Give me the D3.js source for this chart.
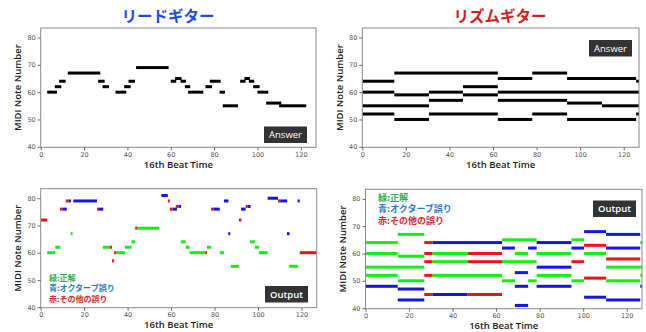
<!DOCTYPE html>
<html>
<head>
<meta charset="utf-8">
<script src="https://cdn.jsdelivr.net/npm/d3@7"></script>
<style>
  body { margin: 0; background: #fff; }
  svg { display: block; }
</style>
</head>
<body>
<svg id="chart"></svg>
<script>
// note lists: [start beat, end beat, midi pitch(, result)]
const leadAnswer = [
  [3, 7.5, 60], [6.5, 9.5, 62], [8.5, 11.5, 64], [12.5, 27.5, 67], [26.5, 29.5, 64],
  [28.5, 31.5, 62], [34.5, 39.5, 60], [38.5, 41.5, 62], [40.5, 43.5, 64], [44, 59, 69],
  [60, 62.5, 64], [62, 65, 65], [64.5, 67, 64], [66.5, 69, 62], [68, 75, 60],
  [76, 79, 62], [78, 83, 64], [82.5, 85, 60], [84, 91, 55], [92, 94.5, 64],
  [94, 96.5, 65], [96, 98.5, 64], [98, 101, 62], [100, 105, 60], [104, 111, 56],
  [110, 122.5, 55]
];

const rhythmAnswer = [
  [0, 14.7, 64], [0, 14.7, 60], [0, 30.6, 55], [0, 14.7, 52],
  [14.7, 62.2, 67], [14.7, 30.6, 59], [14.7, 30.6, 50],
  [30.6, 46.2, 60], [30.6, 46.2, 57], [30.6, 62.2, 52],
  [46.2, 62.2, 62], [46.2, 62.2, 59],
  [62.2, 78, 65], [62.2, 127, 60], [62.2, 94, 57], [62.2, 78, 50],
  [78, 94, 67], [78, 94, 52],
  [94, 125.7, 65], [94, 110, 56], [94, 125.7, 50],
  [110, 127, 55],
  [125.7, 127, 64], [125.7, 127, 52]
];

// g = correct, b = octave error, r = other error
const leadOutput = [
  [0, 3, 72, 'r'], [3, 6.7, 60, 'g'], [6.7, 9, 62, 'g'], [8.9, 10, 76, 'r'], [10, 12, 76, 'b'],
  [11.6, 12.9, 79, 'r'], [12.9, 13.9, 79, 'b'], [13.8, 14.7, 67, 'g'], [15, 25.9, 79, 'b'],
  [25.9, 26.8, 76, 'r'], [26.8, 28.8, 76, 'b'], [28.6, 31.7, 62, 'g'], [31.7, 32.8, 62, 'r'],
  [32.8, 33.8, 57, 'r'], [33.8, 34.9, 60, 'r'], [34.9, 38.8, 60, 'g'], [38.8, 41.8, 62, 'g'],
  [41.8, 43.5, 64, 'g'], [43.5, 44.6, 69, 'r'], [44.6, 54.5, 69, 'g'], [55.5, 58.5, 81, 'b'],
  [58.5, 59.4, 79, 'r'], [59.4, 60.7, 76, 'r'], [60.7, 62.7, 76, 'b'], [62.2, 63.4, 77, 'r'],
  [63.4, 64.6, 77, 'b'], [64.5, 66.7, 64, 'g'], [66.7, 68.5, 62, 'g'], [68.5, 75.7, 60, 'g'],
  [75.7, 76.5, 60, 'r'], [76.5, 78.4, 62, 'g'], [78.4, 79.4, 76, 'r'], [79.4, 82.4, 76, 'b'],
  [82.4, 84.3, 60, 'g'], [84.3, 86.4, 79, 'b'], [86.3, 87.2, 67, 'b'], [87.5, 91.2, 55, 'g'],
  [91.2, 92.4, 72, 'r'], [92.2, 94.3, 76, 'b'], [94.3, 95.2, 77, 'r'], [95.2, 96.6, 77, 'b'],
  [96.3, 98.5, 64, 'g'], [98.5, 100.4, 62, 'g'], [100.4, 104.4, 60, 'g'], [104.4, 109.2, 80, 'b'],
  [109.2, 110.2, 79, 'r'], [110.2, 113.4, 79, 'b'], [113.3, 114.5, 67, 'b'], [114.3, 118.3, 55, 'g'],
  [118.2, 119.2, 79, 'b'], [119.2, 127, 60, 'r']
];

const rhythmOutput = [
  [0, 14.8, 64, 'g'], [0, 14.8, 60, 'g'], [0, 27, 55, 'g'], [0, 14.8, 52, 'g'], [0, 14.8, 48, 'b'],
  [14.8, 27, 67, 'g'], [14.8, 27, 59, 'g'], [14.8, 27, 50, 'g'], [14.8, 27, 47, 'b'], [14.8, 27, 43, 'b'],
  [27, 30.8, 64, 'r'], [27, 30.8, 60, 'r'], [27, 30.8, 57, 'r'], [27, 30.8, 52, 'r'], [27, 30.8, 45, 'r'],
  [30.8, 62.7, 64, 'b'], [30.8, 46.9, 60, 'g'], [30.8, 46.9, 57, 'g'], [30.8, 62.7, 52, 'g'], [30.8, 46.9, 45, 'b'],
  [46.9, 62.7, 60, 'r'], [46.9, 62.7, 57, 'r'], [46.9, 62.7, 45, 'r'],
  [62.7, 78.6, 65, 'g'], [62.7, 68.6, 62, 'b'], [74.7, 78.6, 62, 'b'], [68.6, 74.7, 60, 'g'],
  [62.7, 78.6, 57, 'g'], [68.6, 74.7, 53, 'b'], [62.7, 68.6, 50, 'g'], [74.7, 78.6, 50, 'g'],
  [68.6, 74.7, 48, 'b'], [68.6, 74.7, 41, 'b'],
  [78.6, 94.6, 64, 'b'], [78.6, 94.6, 60, 'g'], [78.6, 94.6, 55, 'b'], [78.6, 94.6, 52, 'g'], [78.6, 94.6, 48, 'b'],
  [94.6, 100.4, 65, 'g'], [94.6, 100.4, 62, 'b'], [94.6, 100.4, 57, 'r'], [94.6, 100.4, 50, 'g'],
  [100.4, 110.5, 68, 'b'], [100.4, 110.5, 63, 'r'], [100.4, 110.5, 60, 'g'], [100.4, 110.5, 51, 'r'], [100.4, 110.5, 44, 'b'],
  [110.5, 126.2, 67, 'b'], [110.5, 126.2, 62, 'b'], [110.5, 126.2, 58, 'r'], [110.5, 127, 55, 'g'],
  [110.5, 126.2, 50, 'g'], [110.5, 126.2, 43, 'b'],
  [126.2, 127, 64, 'g'], [126.2, 127, 52, 'g'], [126.2, 127, 48, 'b']
];

const xTicks = [0, 20, 40, 60, 80, 100, 120];
const yTicks = [40, 50, 60, 70, 80];
const titles = ['リードギター', 'リズムギター'];
const legendLabels = ['緑:正解', '青:オクターブ誤り', '赤:その他の誤り'];

const W = 646, H = 332;
const noteColor = { g: '#14ee14', b: '#1414ee', r: '#ee1414', k: '#000' };
const legendColor = ['#27b24a', '#2a78d0', '#e0262a'];
const cjk = '"Noto Sans CJK JP", sans-serif';
const latin = '"Open Sans", "DejaVu Sans", sans-serif';

const svg = d3.select('#chart').attr('width', W).attr('height', H);

function drawPanel(p) {
  const x = d3.scaleLinear().domain([0, 127]).range([p.x0, p.x1]);
  const y = d3.scaleLinear().domain([39.8, 83.5]).range([p.y1, p.y0]);
  const g = svg.append('g');

  const clipId = 'clip' + p.id;
  g.append('clipPath').attr('id', clipId).append('rect')
    .attr('x', p.x0).attr('y', p.y0).attr('width', p.x1 - p.x0).attr('height', p.y1 - p.y0);

  // notes
  g.append('g').attr('clip-path', `url(#${clipId})`)
    .selectAll('rect')
    .data(p.notes)
    .enter()
    .append('rect')
    .attr('x', d => x(d[0]))
    .attr('width', d => x(d[1]) - x(d[0]))
    .attr('y', d => y(d[2] + 0.55))
    .attr('height', d => y(d[2] - 0.55) - y(d[2] + 0.55))
    .attr('fill', d => noteColor[d[3] || 'k']);

  // frame
  g.append('rect')
    .attr('x', p.x0).attr('y', p.y0)
    .attr('width', p.x1 - p.x0).attr('height', p.y1 - p.y0)
    .attr('fill', 'none').attr('stroke', '#8a8a8a').attr('stroke-width', 1);

  const ax = g.append('g').attr('transform', `translate(0,${p.y1})`)
    .call(d3.axisBottom(x).tickValues(xTicks).tickSize(3).tickPadding(2));
  const ay = g.append('g').attr('transform', `translate(${p.x0},0)`)
    .call(d3.axisLeft(y).tickValues(yTicks).tickSize(3).tickPadding(2));
  [ax, ay].forEach(a => {
    a.select('.domain').remove();
    a.selectAll('line').attr('stroke', '#666');
    a.selectAll('text').attr('fill', '#555').style('font-size', '6.5px').style('font-family', '"DejaVu Sans", sans-serif');
  });

  g.append('text')
    .attr('transform', `translate(${p.x0 - 23},${(p.y0 + p.y1) / 2}) rotate(-90)`)
    .attr('text-anchor', 'middle').attr('dy', '0.35em')
    .style('font-family', latin).style('font-size', '9.5px').style('font-weight', 600)
    .attr('fill', '#222').text('MIDI Note Number');

  g.append('text')
    .attr('x', (p.x0 + p.x1) / 2).attr('y', p.y1 + 17).attr('dy', '0.35em')
    .attr('text-anchor', 'middle')
    .style('font-family', latin).style('font-size', '9.5px').style('font-weight', 600)
    .attr('fill', '#222').text('16th Beat Time');

  // tag box
  g.append('rect').attr('x', p.tag[0]).attr('y', p.tag[1]).attr('width', 43).attr('height', 16.5)
    .attr('fill', '#333');
  g.append('text').attr('x', p.tag[0] + 21.5).attr('y', p.tag[1] + 8.5).attr('dy', '0.35em')
    .attr('text-anchor', 'middle').attr('fill', '#fff')
    .style('font-family', latin).style('font-size', '9.5px').style('font-weight', p.tagBold ? 600 : 400)
    .text(p.tagText);

  if (p.legend) {
    g.selectAll('.lg').data(legendLabels).enter().append('text')
      .attr('x', p.legend[0]).attr('y', (d, i) => p.legend[1] + i * p.legend[2]).attr('dy', '0.35em')
      .attr('fill', (d, i) => legendColor[i])
      .style('font-family', cjk).style('font-size', p.legend[3] + 'px').style('font-weight', 700)
      .text(d => d);
  }
}

drawPanel({ id: 1, x0: 40.7, x1: 316, y0: 28, y1: 147.3, notes: leadAnswer,
  tag: [264, 126.5], tagText: 'Answer' });
drawPanel({ id: 2, x0: 362.3, x1: 639, y0: 28, y1: 147.3, notes: rhythmAnswer,
  tag: [589, 40], tagText: 'Answer' });
drawPanel({ id: 3, x0: 40.7, x1: 316.7, y0: 188.7, y1: 307.7, notes: leadOutput,
  tag: [265, 286], tagText: 'Output', tagBold: true, legend: [49, 277.7, 10.5, 8] });
drawPanel({ id: 4, x0: 365.5, x1: 642, y0: 189.3, y1: 308.7, notes: rhythmOutput,
  tag: [593, 200.5], tagText: 'Output', tagBold: true, legend: [378, 197.5, 11.8, 9] });

svg.selectAll('.title').data(titles).enter().append('text')
  .attr('x', (d, i) => i ? 500 : 168).attr('y', 16.5).attr('dy', '0.35em')
  .attr('text-anchor', 'middle')
  .attr('fill', (d, i) => i ? '#d21f1f' : '#1b4fe4')
  .style('font-family', cjk).style('font-size', '15.5px').style('font-weight', 700)
  .text(d => d);
</script>
</body>
</html>
